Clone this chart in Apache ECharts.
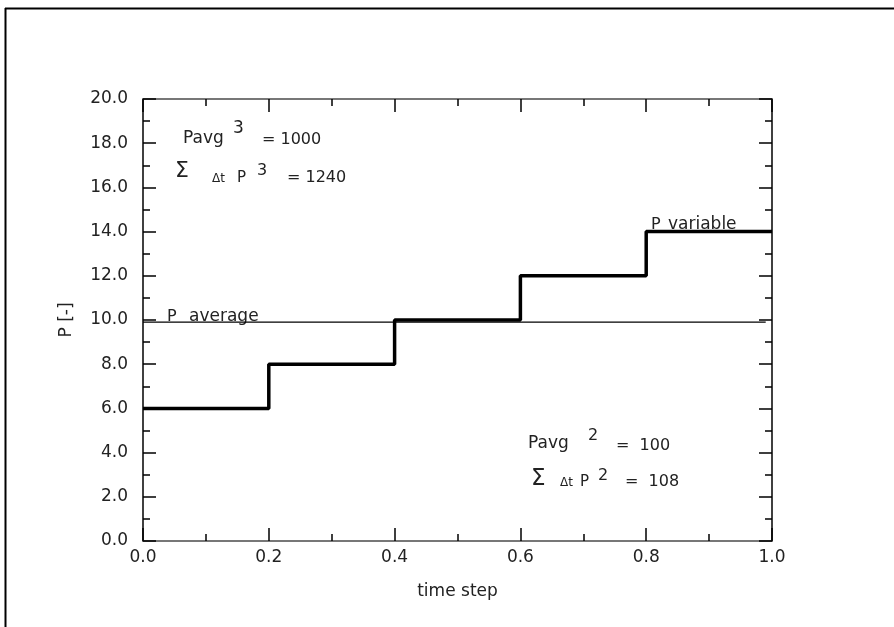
<!DOCTYPE html>
<html>
<head>
<meta charset="utf-8">
<script src="https://cdn.jsdelivr.net/npm/echarts@6/dist/echarts.min.js"></script>
<style>html,body{margin:0;padding:0;background:#fff}#c{width:894px;height:627px}</style>
</head>
<body>
<div id="c"></div>
<script>
// Data
const stepTimes = [0.0, 0.2, 0.4, 0.6, 0.8, 1.0];
const stepValues = [6, 8, 10, 12, 14, 14];
const avgTimes = [0.0, 0.99];
const avgValues = [9.9, 9.9];
const xTicks = [0.0, 0.2, 0.4, 0.6, 0.8, 1.0];
const yTicks = [0, 2, 4, 6, 8, 10, 12, 14, 16, 18, 20];

const FONT = 'DejaVu Sans';
const TXT = '#222';
const chart = echarts.init(document.getElementById('c'), null, {renderer: 'canvas'});

const axisCommon = {
  axisLine: {show: true, onZero: false, lineStyle: {color: '#000', width: 1.5}},
  axisTick: {show: true, inside: true, length: 13, lineStyle: {color: '#000', width: 1.5}},
  minorTick: {show: true, splitNumber: 2, length: 7, lineStyle: {color: '#000', width: 1.5}},
  splitLine: {show: false}
};

function txt(x, cy, s, size) {
  return {type: 'text', x: x, y: cy, silent: true,
    style: {text: s, fontFamily: FONT, fontSize: size, fill: TXT,
      align: 'left', verticalAlign: 'middle', textAlign: 'left', textVerticalAlign: 'middle'}};
}

chart.setOption({
  animation: false,
  grid: {left: 143, right: 122, top: 99, bottom: 86},
  xAxis: [
    Object.assign({}, axisCommon, {
      type: 'value', position: 'bottom', min: 0, max: 1, interval: 0.2,
      axisLine: {show: true, onZero: false, lineStyle: {color: '#777', width: 2}},
      axisLabel: {fontFamily: FONT, fontSize: 17, color: TXT, margin: 8,
        formatter: v => v.toFixed(1)},
      name: 'time step', nameLocation: 'middle', nameGap: 42,
      nameTextStyle: {fontFamily: FONT, fontSize: 17, color: TXT}
    }),
    Object.assign({}, axisCommon, {
      type: 'value', position: 'top', min: 0, max: 1, interval: 0.2,
      axisLine: {show: true, onZero: false, lineStyle: {color: '#777', width: 2}},
      axisLabel: {show: false}
    })
  ],
  yAxis: [
    Object.assign({}, axisCommon, {
      type: 'value', position: 'left', min: 0, max: 20, interval: 2,
      axisLabel: {fontFamily: FONT, fontSize: 17, color: TXT, margin: 15,
        formatter: v => v.toFixed(1)},
      name: 'P [-]', nameLocation: 'middle', nameGap: 68, nameRotate: 90,
      nameTextStyle: {fontFamily: FONT, fontSize: 17, color: TXT}
    }),
    Object.assign({}, axisCommon, {
      type: 'value', position: 'right', min: 0, max: 20, interval: 2,
      axisLabel: {show: false}
    })
  ],
  series: [
    {
      type: 'line', step: 'end', symbol: 'none',
      data: stepTimes.map((t, i) => [t, stepValues[i]]),
      lineStyle: {color: '#000', width: 3.5}
    },
    {
      type: 'line', symbol: 'none',
      data: avgTimes.map((t, i) => [t, avgValues[i]]),
      lineStyle: {color: '#000', width: 1.2}
    }
  ],
  graphic: [
    {type: 'line', shape: {x1: 5, y1: 8.5, x2: 894, y2: 8.5}, style: {stroke: '#000', lineWidth: 2}},
    {type: 'line', shape: {x1: 5.5, y1: 8, x2: 5.5, y2: 627}, style: {stroke: '#000', lineWidth: 2}},
    // top-left annotation
    txt(183, 139, 'Pavg', 17),
    txt(233, 129, '3', 17),
    txt(262, 140, '= 1000', 16),
    txt(175, 171, 'Σ', 22),
    txt(212, 179, 'Δt', 12),
    txt(237, 178, 'P', 15),
    txt(257, 171, '3', 16),
    txt(287, 178, '= 1240', 16),
    // bottom-right annotation
    txt(528, 444, 'Pavg', 17),
    txt(588, 436, '2', 16),
    txt(616, 446, '=  100', 16),
    txt(531, 479, 'Σ', 23),
    txt(560, 483, 'Δt', 12),
    txt(580, 482, 'P', 15),
    txt(598, 476, '2', 16),
    txt(625, 482, '=  108', 16),
    // line labels
    txt(167, 317, 'P', 16),
    txt(189, 317, 'average', 17),
    txt(651, 225, 'P', 16),
    txt(668, 225, 'variable', 17)
  ]
});
</script>
</body>
</html>
